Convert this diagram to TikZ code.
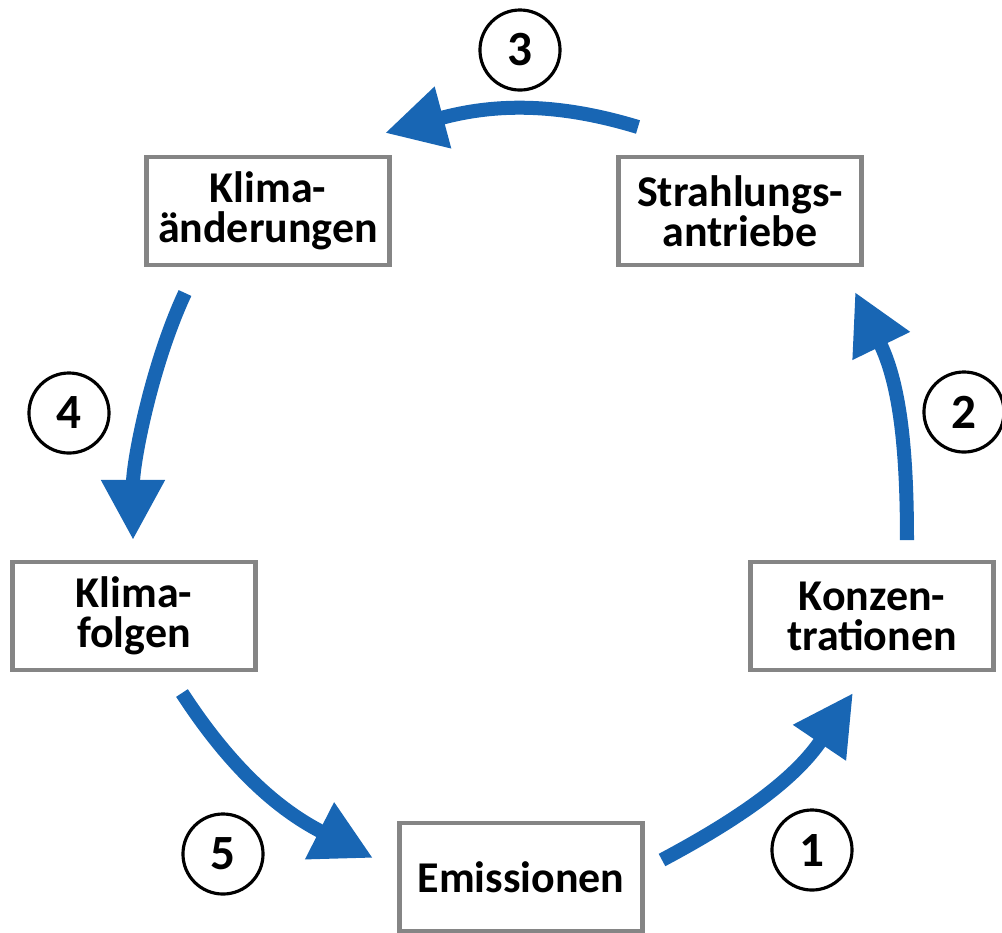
\documentclass[tikz,border=0pt]{standalone}
\usepackage{fontspec}
\setmainfont{Carlito}
\definecolor{flowblue}{HTML}{1866B4}
\definecolor{boxgray}{HTML}{858585}
\usetikzlibrary{arrows.meta}

\begin{document}
\begin{tikzpicture}[x=0.01cm,y=-0.01cm,
  stage/.style={draw=boxgray,line width=1.2pt,fill=white,align=center,inner sep=0pt,
    minimum width=2.43cm,minimum height=1.08cm,
    font=\bfseries\fontsize{12.5}{11.4}\selectfont},
  stepno/.style={circle,draw=black,line width=0.9pt,minimum size=0.8cm,inner sep=0pt,
    font=\bfseries\fontsize{14}{14}\selectfont},
  flow/.style={flowblue,line width=0.14cm,-{Triangle[width=0.6cm,length=0.6cm]}}]
  \useasboundingbox (0,0) rectangle (1002,932);

  % the five stages of the cycle
  \node[stage] (emis)   at (521,877) {Emissionen};
  \node[stage] (konz)   at (872,616) {Konzen-\\trationen};
  \node[stage] (strahl) at (740,211) {Strahlungs-\\antriebe};
  \node[stage] (aend)   at (268,211) {Klima-\\änderungen};
  \node[stage] (folgen) at (134,616) {Klima-\\folgen};

  % step numbers
  \node[stepno] (n1) at (812,850) {1};
  \node[stepno] (n2) at (964,412) {2};
  \node[stepno] (n3) at (520,50)  {3};
  \node[stepno] (n4) at (69,413)  {4};
  \node[stepno] (n5) at (223,854) {5};

  % arrow ends
  \coordinate (a1s) at (662,860); \coordinate (a1e) at (853,693);
  \coordinate (a2s) at (907,540); \coordinate (a2e) at (855,292);
  \coordinate (a3s) at (638,127); \coordinate (a3e) at (385,133);
  \coordinate (a4s) at (185,293); \coordinate (a4e) at (133,540);
  \coordinate (a5s) at (182,693); \coordinate (a5e) at (373,858);

  \draw[flow] (a1s) to[out=28,in=236] (a1e);
  \draw[flow] (a2s) to[out=90,in=-64] (a2e);
  \draw[flow] (a3s) to[out=163,in=15] (a3e);
  \draw[flow] (a4s) to[out=245,in=90,looseness=0.8] (a4e);
  \draw[flow] (a5s) to[out=-57,in=153] (a5e);
\end{tikzpicture}
\end{document}
